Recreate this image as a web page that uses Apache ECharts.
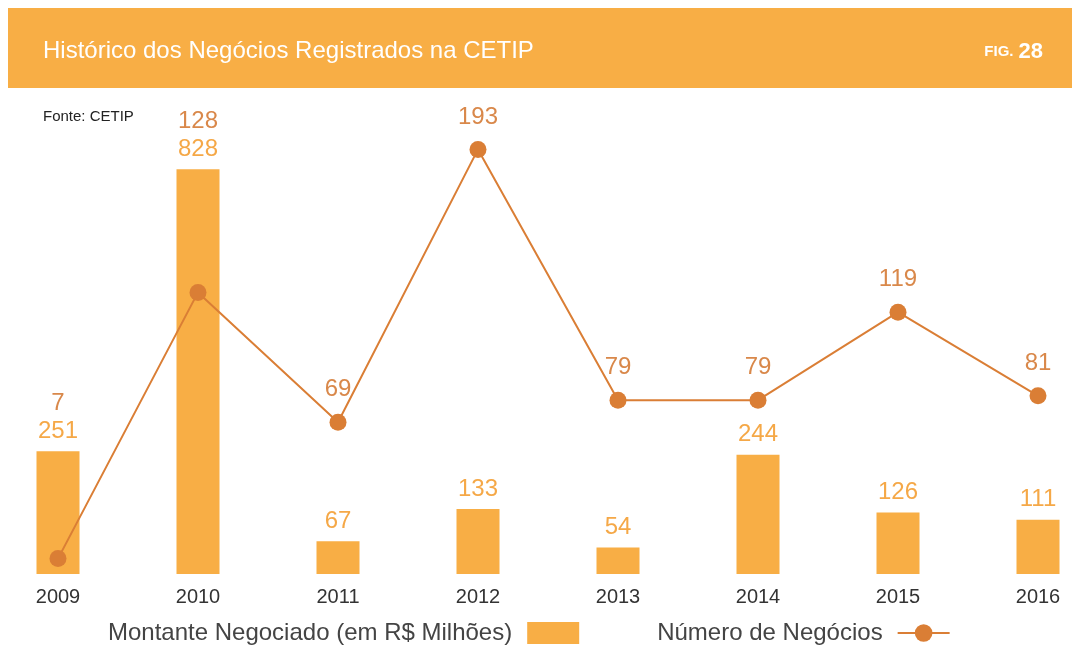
<!DOCTYPE html>
<html><head><meta charset="utf-8">
<script src="https://cdn.jsdelivr.net/npm/echarts@6/dist/echarts.min.js"></script>
<style>html,body{margin:0;padding:0;background:#fff}#c{width:1074px;height:649px}</style>
</head><body><div id="c"></div>
<script>
var years = ['2009','2010','2011','2012','2013','2014','2015','2016'];
var montante = [251, 828, 67, 133, 54, 244, 126, 111];
var negocios = [7, 128, 69, 193, 79, 79, 119, 81];
var barMax = 900, lineMax = 200;

var BAR = '#F8AE45', LINE = '#DA7E35', LINELBL = '#D9884A', FONT = '"Liberation Sans", Arial, sans-serif';
// line labels that would fall under the bar top are stacked on the bar label
var stacked = montante.map(function (v, i) { return negocios[i] / lineMax < v / barMax; });

var chart = echarts.init(document.getElementById('c'), null, {renderer: 'canvas'});
chart.setOption({
  animation: false,
  graphic: [{type: 'rect', shape: {x: 8, y: 8, width: 1064, height: 80}, style: {fill: '#F8AE45'}, z: -1}],
  title: [
    {text: 'Histórico dos Negócios Registrados na CETIP', left: 38, top: 34,
     textStyle: {color: '#fff', fontSize: 24, fontWeight: 'normal', fontFamily: FONT}},
    {text: '{a|FIG.} {b|28}', right: 26, top: 36,
     textStyle: {rich: {a: {color: '#fff', fontSize: 15, fontFamily: FONT},
                        b: {color: '#fff', fontSize: 22, fontWeight: 'bold', fontFamily: FONT}}}},
    {text: 'Fonte: CETIP', left: 38, top: 104,
     textStyle: {color: '#222', fontSize: 15, fontWeight: 'normal', fontFamily: FONT}}
  ],
  legend: {
    left: 103, top: 616, align: 'right', itemGap: 78, itemWidth: 52, itemHeight: 22,
    textStyle: {color: '#444', fontSize: 24, fontFamily: FONT, padding: [0, 10, 0, 0]},
    data: [{name: 'Montante Negociado (em R$ Milhões)', icon: 'rect'},
           {name: 'Número de Negócios'}]
  },
  grid: {left: 58, right: 36, top: 134, bottom: 75},
  xAxis: {type: 'category', data: years, boundaryGap: false,
    axisLine: {show: false}, axisTick: {show: false},
    axisLabel: {color: '#333', fontSize: 20, margin: 13, fontFamily: FONT}},
  yAxis: [
    {type: 'value', min: 0, max: barMax, show: false, splitLine: {show: false}},
    {type: 'value', min: 0, max: lineMax, show: false, splitLine: {show: false}}
  ],
  series: [
    {name: 'Montante Negociado (em R$ Milhões)', type: 'bar', data: montante, barWidth: 43, clip: false,
     itemStyle: {color: BAR},
     label: {show: true, position: 'top', distance: 6, fontFamily: FONT,
       formatter: function (p) {
         return stacked[p.dataIndex] ? '{l|' + negocios[p.dataIndex] + '}\n{b|' + p.value + '}' : '{b|' + p.value + '}';
       },
       rich: {l: {color: LINELBL, fontSize: 24, lineHeight: 28, fontFamily: FONT},
              b: {color: '#F5A847', fontSize: 24, lineHeight: 28, fontFamily: FONT}}}},
    {name: 'Número de Negócios', type: 'line', yAxisIndex: 1, data: negocios,
     symbol: 'circle', symbolSize: 17, clip: false,
     itemStyle: {color: LINE}, lineStyle: {color: LINE, width: 2},
     label: {show: true, position: 'top', distance: 12, color: LINELBL, fontSize: 24, fontFamily: FONT,
       formatter: function (p) { return stacked[p.dataIndex] ? '' : p.value; }}}
  ]
});
</script></body></html>
